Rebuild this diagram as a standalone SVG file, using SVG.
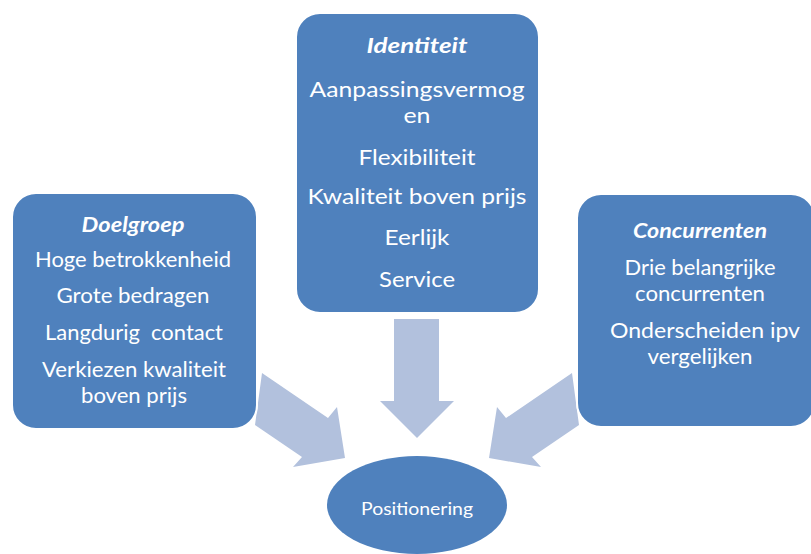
<svg xmlns="http://www.w3.org/2000/svg" width="811" height="554" viewBox="0 0 811 554">
<style>
.box{fill:#4F81BD;stroke:#FFFFFF;stroke-width:2}
.arr{fill:#B2C1DD;stroke:none}
text{font-family:Lato,"Open Sans","Liberation Sans",sans-serif;fill:#FFFFFF;text-anchor:middle}
.l{font-size:20.5px}
.c{font-size:21.5px}
.r{font-size:21.5px}
.h{font-weight:bold;font-style:italic}
.s{font-size:17.5px}
</style>
<rect width="811" height="554" fill="#FFFFFF"/>
<g id="connectors">
<polygon class="arr" points="394,319 439,319 439,401 454,401 417,438 380,401 394,401"/>
<polygon class="arr" points="262,373 328,418 337,407 345,458 293,467 302,457 255,425"/>
<polygon class="arr" points="572,373 506,418 497,407 489,458 541,467 532,457 579,425"/>
</g>
<g id="doelgroep">
<rect class="box" x="12" y="193" width="245" height="236" rx="24"/>
<text class="l h" x="133" y="232" textLength="103" lengthAdjust="spacingAndGlyphs">Doelgroep</text>
<text class="l" x="133" y="267" textLength="196" lengthAdjust="spacingAndGlyphs">Hoge betrokkenheid</text>
<text class="l" x="133" y="303" textLength="153" lengthAdjust="spacingAndGlyphs">Grote bedragen</text>
<text class="l" x="134" y="340" textLength="178" lengthAdjust="spacingAndGlyphs" xml:space="preserve">Langdurig  contact</text>
<text class="l" x="134" y="377" textLength="184" lengthAdjust="spacingAndGlyphs">Verkiezen kwaliteit</text>
<text class="l" x="134" y="403" textLength="106" lengthAdjust="spacingAndGlyphs">boven prijs</text>
</g>
<g id="identiteit">
<rect class="box" x="296" y="13" width="243" height="300" rx="24"/>
<text class="c h" x="417" y="53" textLength="101" lengthAdjust="spacingAndGlyphs">Identiteit</text>
<text class="c" x="417" y="97" textLength="215" lengthAdjust="spacingAndGlyphs">Aanpassingsvermog</text>
<text class="c" x="417" y="123" textLength="27" lengthAdjust="spacingAndGlyphs">en</text>
<text class="c" x="417" y="165" textLength="117" lengthAdjust="spacingAndGlyphs">Flexibiliteit</text>
<text class="c" x="417" y="204" textLength="219" lengthAdjust="spacingAndGlyphs">Kwaliteit boven prijs</text>
<text class="c" x="417" y="245" textLength="65" lengthAdjust="spacingAndGlyphs">Eerlijk</text>
<text class="c" x="417" y="287" textLength="76" lengthAdjust="spacingAndGlyphs">Service</text>
</g>
<g id="concurrenten">
<rect class="box" x="577" y="194" width="238" height="233" rx="24"/>
<text class="r h" x="700" y="238" textLength="134" lengthAdjust="spacingAndGlyphs">Concurrenten</text>
<text class="r" x="700" y="275" textLength="151" lengthAdjust="spacingAndGlyphs">Drie belangrijke</text>
<text class="r" x="700" y="301" textLength="130" lengthAdjust="spacingAndGlyphs">concurrenten</text>
<text class="r" x="705" y="338" textLength="190" lengthAdjust="spacingAndGlyphs">Onderscheiden ipv</text>
<text class="r" x="700" y="364" textLength="105" lengthAdjust="spacingAndGlyphs">vergelijken</text>
</g>
<g id="positionering">
<ellipse cx="417" cy="505" rx="90" ry="49" fill="#4F81BD"/>
<text class="s" x="417" y="515" textLength="112" lengthAdjust="spacingAndGlyphs">Positionering</text>
</g>
</svg>
